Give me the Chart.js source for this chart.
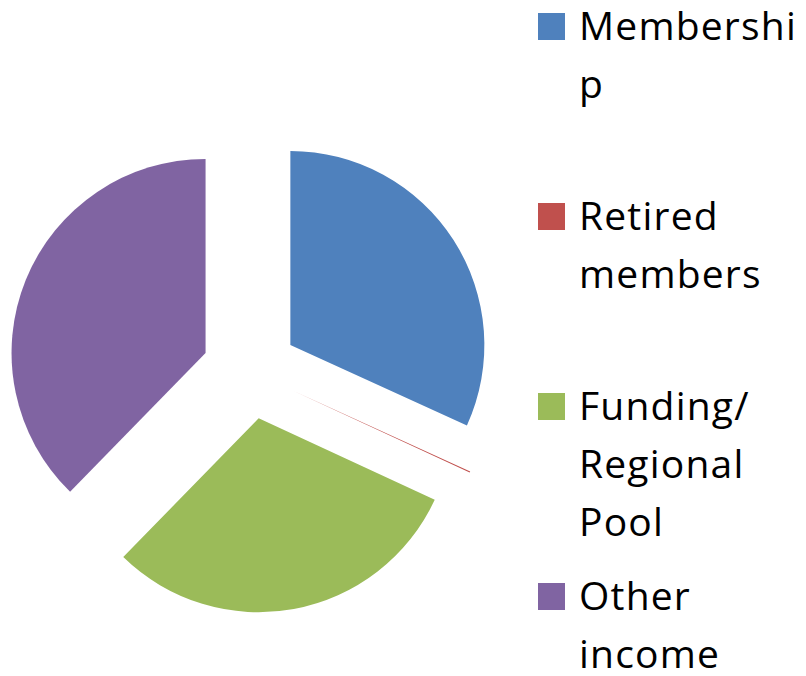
<!DOCTYPE html>
<html>
<head>
<meta charset="utf-8">
<script src="https://cdn.jsdelivr.net/npm/chart.js@4/dist/chart.umd.min.js"></script>
<style>
  html, body { margin: 0; padding: 0; background: #ffffff; }
  #wrap { position: relative; width: 806px; height: 676px; overflow: hidden; }
  #chartBox { position: absolute; left: 0; top: 0; width: 530px; height: 676px; }
  .item { position: absolute; left: 538px; font-family: "Open Sans", Lato, sans-serif; font-size: 39px; letter-spacing: 1.2px; line-height: 58px; color: #000; }
  .sw { position: absolute; left: 0; width: 27px; height: 27px; }
  .txt { position: absolute; left: 41px; top: 0; white-space: nowrap; }
</style>
</head>
<body>
<div id="wrap">
  <div id="chartBox"><canvas id="c"></canvas></div>
  <div id="legend"></div>
</div>
<script>
const categories = ["Membership", "Retired members", "Funding/ Regional Pool", "Other income"];
const legendLines = [["Membershi", "p"], ["Retired", "members"], ["Funding/", "Regional", "Pool"], ["Other", "income"]];
const shares = [31.8, 0.1, 30.4, 37.7];
const colors = ["#4F81BD", "#C0504D", "#9BBB59", "#8064A2"];

const explode = 48;   // outward displacement of each slice (px)
const pieRadius = 194;

// Chart.js v4 translates arcs by offset/4 but also grows narrow arcs' radius and trims
// their angle; undo both so every slice keeps the plain pie geometry.
const keepGeometry = {
  id: 'keepGeometry',
  afterDatasetsUpdate(chart) {
    chart.getSortedVisibleDatasetMetas().forEach(meta => {
      meta.data.forEach(arc => {
        const circ = arc.circumference;
        const fix = 1 - Math.sin(Math.min(Math.PI, circ || 0));
        const radiusOffset = explode * fix;
        const drawnR = arc.outerRadius;
        arc.outerRadius = drawnR - radiusOffset;
        const widen = radiusOffset / (Math.PI * drawnR);
        arc.startAngle -= widen / 2;
        arc.endAngle += widen / 2;
      });
    });
  }
};

new Chart(document.getElementById('c'), {
  type: 'pie',
  data: {
    labels: categories,
    datasets: [{
      data: shares,
      backgroundColor: colors,
      borderWidth: 0,
      offset: explode * 4
    }]
  },
  options: {
    responsive: true,
    maintainAspectRatio: false,
    animation: false,
    radius: pieRadius,
    layout: { padding: { left: 0, right: 30, top: 66, bottom: 0 } },
    plugins: { legend: { display: false }, tooltip: { enabled: false } }
  },
  plugins: [keepGeometry]
});

const tops = [-4, 186, 376, 566];
const legend = document.getElementById('legend');
categories.forEach((cat, i) => {
  const it = document.createElement('div');
  it.className = 'item';
  it.style.top = tops[i] + 'px';
  const sw = document.createElement('div');
  sw.className = 'sw';
  sw.style.background = colors[i];
  sw.style.top = '17px';
  const tx = document.createElement('div');
  tx.className = 'txt';
  tx.innerHTML = legendLines[i].join('<br>');
  it.appendChild(sw);
  it.appendChild(tx);
  legend.appendChild(it);
});
</script>
</body>
</html>
